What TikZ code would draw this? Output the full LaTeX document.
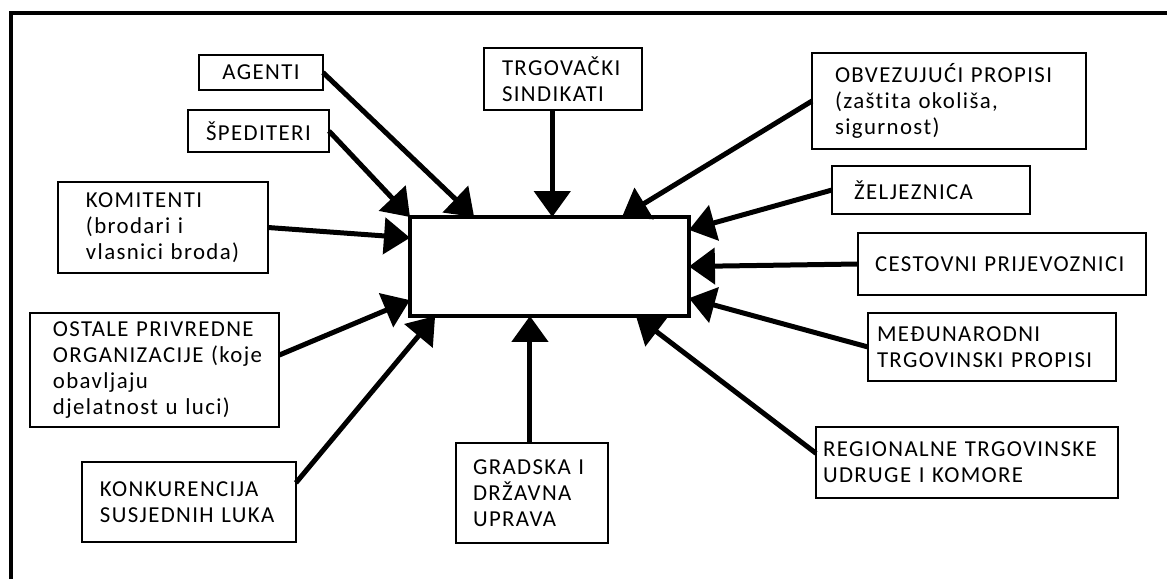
\documentclass[tikz,border=0pt]{standalone}
\usepackage{fontspec}
\setmainfont{Carlito}[LetterSpace=6.0,Ligatures={NoCommon,NoRare}]
\usetikzlibrary{arrows.meta,calc}

\begin{document}
\begin{tikzpicture}[x=0.02cm,y=-0.02cm]
\tikzstyle{every node}+=[inner ysep=0pt, outer sep=0pt, font=\fontsize{13}{14.7}\selectfont]
\tikzstyle{box}=[draw=black, line width=0.85pt, anchor=north west, align=left]
\tikzstyle{arr}=[line width=0.1cm, -{Triangle[length=0.52cm,width=0.72cm]}]
\useasboundingbox (0,0) rectangle (1167,579);
\draw [line width=0.08cm] (11,579) -- (11,13) -- (1167,13);
\node [draw, line width=0.08cm, minimum width=5.58cm, minimum height=1.98cm, inner sep=0pt, anchor=north west] (port) at (410,217) {};
\node [box, align=center, text width=2.48cm, inner xsep=0pt, minimum height=0.7cm] (agenti) at (199,55) {AGENTI};
\node [box, align=center, text width=2.82cm, inner xsep=0pt, minimum height=0.84cm] (spediteri) at (188,110) {ŠPEDITERI};
\node [box, text width=3.08cm, inner xsep=0.56cm, minimum height=1.82cm] (komitenti) at (58,182) {KOMITENTI\\(brodari~i\\vlasnici~broda)};
\node [box, text width=2.44cm, inner xsep=0.36cm, minimum height=1.24cm] (sindikati) at (484,48) {TRGOVAČKI\\SINDIKATI};
\node [box, text width=4.56cm, inner xsep=0.46cm, minimum height=1.92cm] (propisi) at (812,53) {OBVEZUJUĆI~PROPISI\\(zaštita~okoliša,\\sigurnost)};
\node [box, text width=3.08cm, inner xsep=0.44cm, minimum height=0.96cm] (zeljeznica) at (832,166) {ŽELJEZNICA};
\node [box, text width=5.08cm, inner xsep=0.34cm, minimum height=1.24cm] (cestovni) at (858,233) {CESTOVNI~PRIJEVOZNICI};
\node [box, text width=4.6cm, inner xsep=0.18cm, minimum height=1.36cm] (medunarodni) at (868,313) {MEĐUNARODNI\\TRGOVINSKI~PROPISI};
\node [box, text width=5.76cm, inner xsep=0.14cm, minimum height=1.42cm] (regionalne) at (816,427) {REGIONALNE~TRGOVINSKE\\UDRUGE~I~KOMORE};
\node [box, text width=4.06cm, inner xsep=0.46cm, minimum height=2.28cm] (ostale) at (30,313) {OSTALE~PRIVREDNE\\ORGANIZACIJE~(koje\\obavljaju\\djelatnost~u~luci)};
\node [box, text width=3.56cm, inner xsep=0.36cm, minimum height=1.6cm] (konkurencija) at (82,462) {KONKURENCIJA\\SUSJEDNIH~LUKA};
\node [box, text width=2.36cm, inner xsep=0.34cm, minimum height=2.0cm] (gradska) at (456,443) {GRADSKA~I\\DRŽAVNA\\UPRAVA};
\coordinate (in-agenti) at ($(port.north west)!.23!(port.north east)$);
\coordinate (in-sindikati) at ($(port.north west)!.51!(port.north east)$);
\coordinate (in-propisi) at ($(port.north west)!.76!(port.north east)$);
\coordinate (in-zeljeznica) at ($(port.north east)!.13!(port.south east)$);
\coordinate (in-medunarodni) at ($(port.north east)!.82!(port.south east)$);
\coordinate (in-regionalne) at ($(port.south west)!.81!(port.south east)$);
\coordinate (in-gradska) at ($(port.south west)!.43!(port.south east)$);
\coordinate (in-konkurencija) at ($(port.south west)!.09!(port.south east)$);
\coordinate (in-ostale) at ($(port.north west)!.84!(port.south west)$);
\coordinate (in-komitenti) at ($(port.north west)!.21!(port.south west)$);
\draw [arr] (agenti.east) -- (in-agenti);
\draw [arr] (spediteri.east) -- (port.north west);
\draw [arr] (komitenti.east) -- (in-komitenti);
\draw [arr] (sindikati.south -| in-sindikati) -- (in-sindikati);
\draw [arr] (propisi.west) -- (in-propisi);
\draw [arr] (zeljeznica.west) -- (in-zeljeznica);
\draw [arr] (cestovni.west) -- (port.east);
\draw [arr] (medunarodni.west) -- (in-medunarodni);
\draw [arr] ($(regionalne.north west)!.37!(regionalne.south west)$) -- (in-regionalne);
\draw [arr] (gradska.north -| in-gradska) -- (in-gradska);
\draw [arr] ($(ostale.north east)!.37!(ostale.south east)$) -- (in-ostale);
\draw [arr] ($(konkurencija.north east)!.26!(konkurencija.south east)$) -- (in-konkurencija);
\end{tikzpicture}
\end{document}
